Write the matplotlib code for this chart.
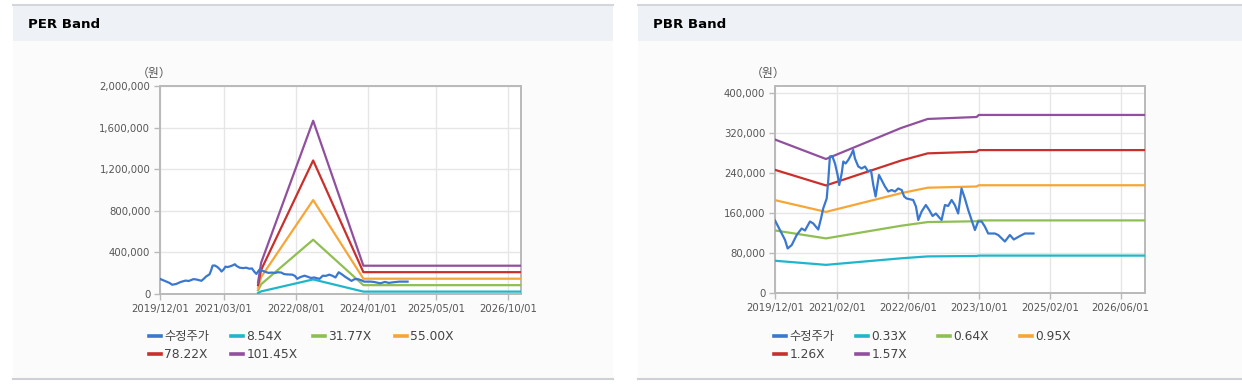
import matplotlib.pyplot as plt
import matplotlib.patches as mpatches
import matplotlib.lines as mlines
import matplotlib.ticker as mticker
import pandas as pd

# ---- data ----
price_dates = ["2019-12-01", "2020-01-04", "2020-02-08", "2020-02-26", "2020-03-25", "2020-04-28",
               "2020-06-01", "2020-06-24", "2020-07-28", "2020-08-20", "2020-09-23", "2020-10-12",
               "2020-10-27", "2020-11-20", "2020-12-01", "2020-12-12", "2020-12-28", "2021-01-16",
               "2021-02-03", "2021-02-14", "2021-03-03", "2021-03-14", "2021-03-30", "2021-04-17",
               "2021-05-06", "2021-05-21", "2021-06-02", "2021-06-25", "2021-07-18", "2021-08-10",
               "2021-09-01", "2021-09-20", "2021-10-06", "2021-10-22", "2021-11-14", "2021-12-02",
               "2021-12-25", "2022-01-17", "2022-02-09", "2022-03-04", "2022-03-26", "2022-04-19",
               "2022-05-06", "2022-05-23", "2022-07-07", "2022-07-26", "2022-08-11", "2022-09-03",
               "2022-10-02", "2022-10-25", "2022-11-17", "2022-12-10", "2023-01-02", "2023-01-18",
               "2023-02-10", "2023-03-04", "2023-03-28", "2023-04-19", "2023-05-12", "2023-06-04",
               "2023-06-27", "2023-07-20", "2023-08-12", "2023-09-04", "2023-09-26", "2023-10-20",
               "2023-11-11", "2023-12-04", "2024-01-19", "2024-02-11", "2024-03-28", "2024-05-01",
               "2024-05-28", "2024-07-09", "2024-08-12", "2024-10-10"]
price = [145000, 126000, 106000, 89000, 96000, 116000,
         129000, 125000, 143000, 139000, 127000, 149000,
         169000, 189000, 226000, 273000, 274000, 259000,
         236000, 216000, 239000, 263000, 259000, 266000,
         276000, 286000, 269000, 253000, 249000, 253000,
         243000, 246000, 216000, 193000, 236000, 226000,
         213000, 203000, 206000, 203000, 209000, 206000,
         193000, 189000, 186000, 173000, 146000, 163000,
         176000, 166000, 154000, 159000, 151000, 146000,
         176000, 174000, 186000, 176000, 159000, 209000,
         189000, 166000, 146000, 126000, 143000, 143000,
         133000, 119000, 119000, 116000, 103000, 116000,
         107000, 114000, 119000, 119000]

per_dates = ["2021-11-03", "2021-11-25", "2022-12-03", "2023-11-28", "2027-01-01"]
per_labels = ["8.54X", "31.77X", "55.00X", "78.22X", "101.45X"]
per_854 = [9000, 25000, 140000, 23000, 23000]
per_3177 = [35000, 94000, 522000, 85000, 85000]
per_5500 = [60000, 163000, 903000, 147000, 147000]
per_7822 = [86000, 232000, 1284000, 210000, 210000]
per_10145 = [112000, 301000, 1666000, 272000, 272000]

pbr_dates = ["2019-12-01", "2020-11-15", "2022-04-15", "2022-10-15", "2023-09-15", "2023-10-01", "2026-11-15"]
pbr_labels = ["0.33X", "0.64X", "0.95X", "1.26X", "1.57X"]
pbr_033 = [64500, 56300, 69400, 73200, 74000, 74800, 74800]
pbr_064 = [125100, 109200, 134500, 141900, 143500, 145200, 145200]
pbr_095 = [185700, 162200, 199700, 210600, 213000, 215500, 215500]
pbr_126 = [246300, 215100, 264900, 279300, 282500, 285800, 285800]
pbr_157 = [306900, 268000, 330000, 348100, 352000, 356100, 356100]

per_xticks = ["2019/12/01", "2021/03/01", "2022/08/01", "2024/01/01", "2025/05/01", "2026/10/01"]
pbr_xticks = ["2019/12/01", "2021/02/01", "2022/06/01", "2023/10/01", "2025/02/01", "2026/06/01"]
per_yticks = [0, 400000, 800000, 1200000, 1600000, 2000000]
pbr_yticks = [0, 80000, 160000, 240000, 320000, 400000]

price_label = "수정주가"
colors = ["#3a78cf", "#1fb6cb", "#8fbf52", "#f6a636", "#c9302c", "#91509d"]

W, H = 1242, 388
fig = plt.figure(figsize=(W / 100, H / 100), dpi=100)
fig.patch.set_facecolor("white")


def px(x0, y0, x1, y1):
    # pixel box -> figure fraction (left, bottom, width, height)
    return [x0 / W, 1 - y1 / H, (x1 - x0) / W, (y1 - y0) / H]


def panel(x0, x1, title):
    l, b, w, h = px(x0, 41, x1, 379)
    fig.patches.append(mpatches.Rectangle((l, b), w, h, transform=fig.transFigure,
                                          facecolor="#fbfbfb", edgecolor="none", zorder=-3))
    l, b, w, h = px(x0, 5, x1, 41)
    fig.patches.append(mpatches.Rectangle((l, b), w, h, transform=fig.transFigure,
                                          facecolor="#eef2f7", edgecolor="none", zorder=-3))
    fig.lines.append(mlines.Line2D([x0 / W, x1 / W], [1 - 5 / H] * 2, transform=fig.transFigure,
                                   color="#d3d6da", lw=1.5, zorder=-2))
    fig.lines.append(mlines.Line2D([x0 / W, x1 / W], [1 - 379 / H] * 2, transform=fig.transFigure,
                                   color="#cdd0d4", lw=1.5, zorder=-2))
    fig.text((x0 + 15) / W, 1 - 24 / H, title, fontsize=9.6, fontweight="bold",
             va="center", ha="left", color="black")


def band_chart(box, xlim, ylim, ylabel_x, dates_b, bands, labels, xticks, yticks, legend_x):
    ax = fig.add_axes(px(*box))
    ax.set_zorder(1)
    ax.set_facecolor("white")
    handles = []
    h, = ax.plot(pd.to_datetime(price_dates), price, color=colors[0], lw=1.6, zorder=4)
    handles.append(h)
    for vals, c in zip(bands, colors[1:]):
        h, = ax.plot(pd.to_datetime(dates_b), vals, color=c, lw=1.6, zorder=3)
        handles.append(h)
    ax.set_xlim(pd.Timestamp(xlim[0]), pd.Timestamp(xlim[1]))
    ax.set_ylim(*ylim)
    ax.set_xticks(pd.to_datetime(xticks, format="%Y/%m/%d"))
    ax.set_xticklabels(xticks)
    ax.set_yticks(yticks)
    ax.yaxis.set_major_formatter(mticker.FuncFormatter(lambda v, p: f"{int(v):,}"))
    ax.grid(True, color="#e6e6e6", lw=1)
    ax.set_axisbelow(True)
    for s in ax.spines.values():
        s.set_color("#b9b9b9")
        s.set_linewidth(1.4)
    ax.tick_params(colors="#b9b9b9", labelcolor="#555555", labelsize=7.3, length=4, width=1, pad=3)
    fig.text(ylabel_x / W, 1 - 73 / H, "（원）", fontsize=8.6, color="#555555",
             family=["Noto Sans CJK KR", "DejaVu Sans"], ha="center", va="center")

    # legend: 4 evenly spaced columns, filled row by row
    labs = [price_label] + labels
    columns = [[0, 4], [1, 5], [2], [3]]
    for i, col in enumerate(columns):
        leg = fig.legend([handles[k] for k in col], [labs[k] for k in col],
                         loc="upper left", bbox_to_anchor=((legend_x + i * 82) / W, 1 - 330 / H),
                         frameon=False, borderpad=0, borderaxespad=0, handlelength=1.0,
                         handletextpad=0.25, labelspacing=0.45,
                         prop={"family": ["DejaVu Sans", "Noto Sans CJK KR"], "size": 8.8},
                         labelcolor="#444444")
        for lh in leg.get_lines():
            lh.set_linewidth(2.6)
    return ax


panel(13, 613, "PER Band")
panel(638, 1242, "PBR Band")

band_chart((160, 86, 521, 294), ("2019-12-01", "2027-01-01"), (0, 2000000), 154,
           per_dates, [per_854, per_3177, per_5500, per_7822, per_10145], per_labels,
           per_xticks, per_yticks, 149)
band_chart((775, 86, 1145, 293), ("2019-12-01", "2026-11-15"), (0, 414000), 768,
           pbr_dates, [pbr_033, pbr_064, pbr_095, pbr_126, pbr_157], pbr_labels,
           pbr_xticks, pbr_yticks, 774)

fig.savefig("out.png", dpi=100)
